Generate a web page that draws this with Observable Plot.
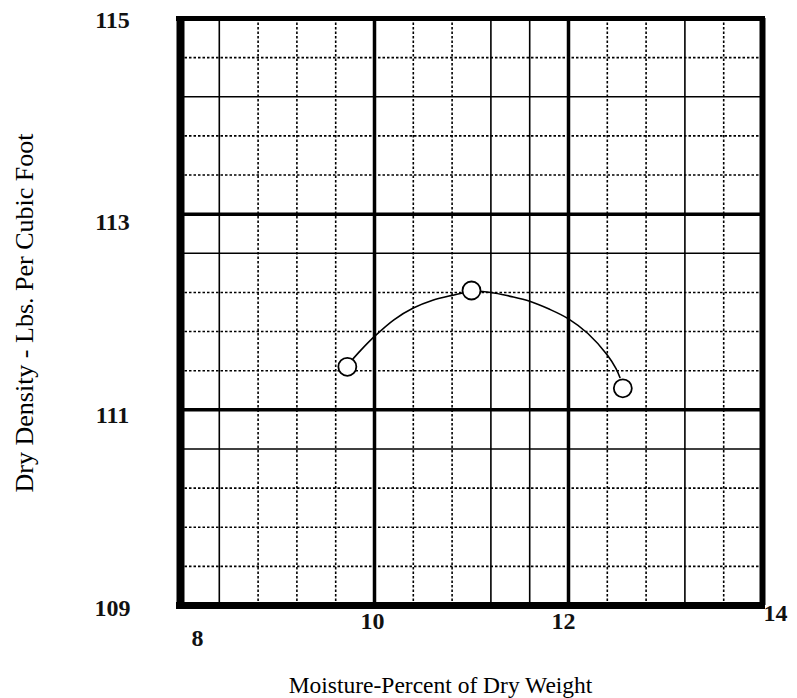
<!DOCTYPE html>
<html>
<head>
<meta charset="utf-8">
<script src="https://cdn.jsdelivr.net/npm/d3@7"></script>
<script src="https://cdn.jsdelivr.net/npm/@observablehq/plot@0.6"></script>
<style>
  html, body { margin: 0; padding: 0; background: #fff; }
  #chart svg { display: block; background: #fff; }
</style>
</head>
<body>
<div id="chart"></div>
<script>
// Measured test points
const moisture = [9.72, 11.0, 12.56];
const density = [111.44, 112.22, 111.22];

// Hand-drawn curve
const curveMoisture = [9.76, 9.86, 10.0, 10.2, 10.4, 10.6, 10.8, 11.0, 11.2, 11.4, 11.6, 11.8, 12.0, 12.2, 12.4, 12.49, 12.53];
const curveDensity = [111.5, 111.61, 111.75, 111.92, 112.04, 112.12, 112.17, 112.21, 112.2, 112.16, 112.11, 112.03, 111.93, 111.78, 111.56, 111.42, 111.33];

// Grid / tick values
const xTicks = [8, 10, 12, 14];
const yTicks = [109, 111, 113, 115];
const xThick = [10, 12];
const xSolid = [8.4, 11.2, 11.6, 13.2];
const xDotted = [8.8, 9.2, 9.6, 10.4, 10.8, 12.4, 12.8, 13.6];
const yThick = [111, 113];
const ySolid = [110.6, 112.6, 114.2];
const yDotted = [109.4, 109.8, 110.2, 111.4, 111.8, 112.2, 113.4, 113.8, 114.6];

const xTitle = "Moisture-Percent of Dry Weight";
const yTitle = "Dry Density - Lbs. Per Cubic Foot";

const points = moisture.map((m, i) => ({m, d: density[i]}));
const curve = curveMoisture.map((m, i) => ({m, d: curveDensity[i]}));

const font = "'Liberation Serif', 'DejaVu Serif', serif";
// per-label nudges (layout only)
const xNudge = {8: [17, 33], 10: [-2, 16], 12: [-5, 16], 14: [13, 8]};
const yNudge = {115: 2, 113: 8, 111: 5, 109: 3};

const chart = Plot.plot({
  width: 797,
  height: 698,
  marginLeft: 180,
  marginRight: 35,
  marginTop: 18,
  marginBottom: 93,
  x: {domain: [8, 14], axis: null},
  y: {domain: [109, 115], axis: null},
  style: {background: "#fff", fontFamily: font},
  marks: [
    Plot.ruleX(xDotted, {stroke: "#000", strokeWidth: 1.6, strokeDasharray: "2.5,2"}),
    Plot.ruleY(yDotted, {stroke: "#000", strokeWidth: 1.6, strokeDasharray: "2.5,2"}),
    Plot.ruleX(xSolid, {stroke: "#000", strokeWidth: 1.6}),
    Plot.ruleY(ySolid, {stroke: "#000", strokeWidth: 1.6}),
    Plot.ruleX(xThick, {stroke: "#000", strokeWidth: 3.5}),
    Plot.ruleY(yThick, {stroke: "#000", strokeWidth: 3.5}),
    // frame
    Plot.ruleX([8], {stroke: "#000", strokeWidth: 8}),
    Plot.ruleX([14], {stroke: "#000", strokeWidth: 6}),
    Plot.ruleY([115], {x1: 8, x2: 14, stroke: "#000", strokeWidth: 5, insetLeft: -4, insetRight: -3}),
    Plot.ruleY([109], {x1: 8, x2: 14, stroke: "#000", strokeWidth: 7, insetLeft: -4, insetRight: -3}),
    // curve and points
    Plot.line(curve, {x: "m", y: "d", curve: "catmull-rom", stroke: "#000", strokeWidth: 1.6}),
    Plot.dot(points, {x: "m", y: "d", r: 9, stroke: "#000", strokeWidth: 1.8, fill: "#fff"}),
    // tick labels
    ...xTicks.map(t => Plot.text([t], {
      x: d => d, frameAnchor: "bottom", text: d => String(d),
      dx: xNudge[t][0], dy: xNudge[t][1], textAnchor: "middle", lineAnchor: "middle",
      fontSize: 24, fontWeight: "bold", fill: "#111", fontFamily: font
    })),
    ...yTicks.map(t => Plot.text([t], {
      y: d => d, frameAnchor: "left", text: d => String(d),
      dx: -68, dy: yNudge[t], textAnchor: "middle", lineAnchor: "middle",
      fontSize: 24, fontWeight: "bold", fill: "#111", fontFamily: font
    })),
    // axis titles
    Plot.text([xTitle], {
      frameAnchor: "bottom", text: d => d, dx: -31, dy: 80,
      textAnchor: "middle", lineAnchor: "middle", fontSize: 23.5, fill: "#000", fontFamily: font
    }),
    Plot.text([yTitle], {
      frameAnchor: "left", text: d => d, dx: -156, dy: 1, rotate: -90,
      textAnchor: "middle", lineAnchor: "middle", fontSize: 26, fill: "#000", fontFamily: font
    })
  ]
});
document.getElementById("chart").append(chart);
</script>
</body>
</html>
